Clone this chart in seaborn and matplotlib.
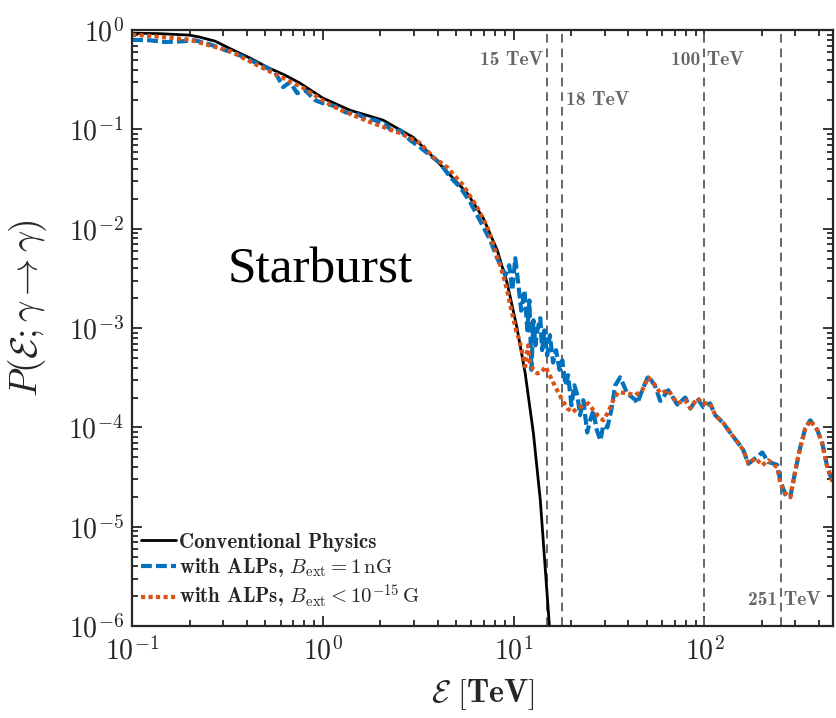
import numpy as np
import pandas as pd
import matplotlib
matplotlib.use("Agg")
import matplotlib.pyplot as plt
from matplotlib.ticker import FuncFormatter, LogLocator, NullFormatter
import seaborn as sns

# ---------------- data ----------------
conv_E = [0.1, 0.14, 0.2, 0.227, 0.272, 0.339, 0.416, 0.51, 0.634, 0.76, 1.0, 1.39,
          2.07, 2.97, 3.79, 4.65, 5.71, 6.93, 8.2, 9.25, 10.4, 11.5, 12.7, 13.8, 15.4, 15.8]
conv_P = [0.933, 0.922, 0.891, 0.85, 0.775, 0.629, 0.523, 0.424, 0.352, 0.292, 0.207, 0.156,
          0.124, 0.0836, 0.0526, 0.0347, 0.0228, 0.0128, 0.0061, 0.00283, 0.00102, 3.5e-4,
          8.7e-5, 1.85e-5, 1.0e-6, 5e-7]

blue_E = [0.1, 0.124, 0.149, 0.179, 0.214, 0.256, 0.307, 0.347, 0.416, 0.498,
          0.562, 0.619, 0.674, 0.733, 0.807, 0.911, 1.0, 1.16, 1.31, 1.48,
          1.67, 1.88, 2.12, 2.34, 2.54, 2.87, 3.24, 3.65, 4.12, 4.65,
          5.25, 5.92, 6.68, 7.54, 8.2, 8.82,
          9.04, 9.49, 9.84, 10.2, 10.6, 10.96, 11.4, 11.8, 12.1, 12.4,
          12.7, 13.0, 13.3, 13.8, 14.1, 14.5, 15.0, 15.5, 16.1, 16.7,
          17.4, 18.0, 18.7, 19.3, 20.1, 20.8, 21.6, 22.3, 23.2, 24.3,
          25.2, 26.2, 27.1, 28.5, 29.5, 31.0, 32.5, 34.1, 36.2,
          39.4, 43.4, 44.5, 47.2, 50.8, 55.2, 58.7, 64.7, 72.1, 79.4,
          84.4, 91.8, 98.7, 107, 114, 126, 140, 151, 160, 170,
          185, 201, 216, 241, 250, 266, 282, 300, 318, 338,
          359, 391, 415, 441, 473]
blue_P = [0.80, 0.79, 0.76, 0.77, 0.79, 0.72, 0.629, 0.586, 0.499, 0.424,
          0.378, 0.267, 0.30, 0.232, 0.249, 0.197, 0.184, 0.172, 0.149, 0.146,
          0.130, 0.124, 0.113, 0.094, 0.098, 0.078, 0.066, 0.055, 0.0458, 0.0331,
          0.0262, 0.0185, 0.0120, 0.00767, 0.00506, 0.00383,
          3.4e-3, 4.3e-3, 2.4e-3, 5.06e-3, 2.7e-3, 1.5e-3, 2.4e-3, 9.5e-4, 1.9e-3, 3.8e-4,
          1.2e-3, 6.7e-4, 9.5e-4, 1.26e-3, 6.0e-4, 9.5e-4, 5.3e-4, 8.5e-4, 4.5e-4, 6.0e-4,
          3.8e-4, 4.75e-4, 2.66e-4, 3.36e-4, 1.67e-4, 2.66e-4, 2.1e-4, 1.33e-4, 1.88e-4, 8.9e-5,
          1.18e-4, 1.49e-4, 9.8e-5, 7.4e-5, 1.05e-4, 1.0e-4, 1.49e-4, 2.66e-4, 3.2e-4,
          2.2e-4, 1.9e-4, 1.75e-4, 2.37e-4, 3.3e-4, 2.6e-4, 1.85e-4, 2.37e-4, 1.7e-4, 2.0e-4,
          1.55e-4, 1.97e-4, 1.6e-4, 1.75e-4, 1.33e-4, 1.1e-4, 8.3e-5, 6.9e-5, 5.9e-5, 4.3e-5,
          4.9e-5, 5.6e-5, 4.5e-5, 4.2e-5, 2.9e-5, 2.1e-5, 2.0e-5, 3.7e-5, 6.3e-5, 9.8e-5,
          1.18e-4, 9.4e-5, 6.9e-5, 3.97e-5, 2.74e-5]

orange_E = [0.1, 0.124, 0.158, 0.201, 0.256, 0.327, 0.382, 0.486, 0.619, 0.789,
            1.0, 1.23, 1.77, 2.54, 3.24, 3.79, 4.48, 5.44, 6.44, 7.27,
            8.2, 8.82, 9.25, 9.6, 9.95, 10.3, 10.7, 11.1, 11.5, 11.9,
            12.2, 12.7, 13.3, 14.0, 14.7, 15.4, 16.1, 16.9, 18.0, 19.1,
            20.3, 21.6, 22.9, 24.6, 26.2, 27.8, 29.5, 31.3, 33.3, 35.3,
            39.4, 43.4, 47.2, 50.8, 55.2, 58.7, 64.7, 72.1, 79.4, 84.4,
            91.8, 98.7, 107, 114, 126, 140, 151, 160, 170, 185,
            201, 216, 241, 250, 266, 282, 300, 318, 338, 359,
            391, 415, 441, 473]
orange_P = [0.90, 0.875, 0.84, 0.80, 0.70, 0.615, 0.525, 0.415, 0.33, 0.262,
            0.195, 0.158, 0.1185, 0.0918, 0.0728, 0.0526, 0.0417, 0.0275, 0.0165, 0.0105,
            5.3e-3, 3.4e-3, 2.4e-3, 1.7e-3, 1.26e-3, 9.5e-4, 7.6e-4, 5.7e-4, 4.1e-4, 6.7e-4,
            4.5e-4, 3.8e-4, 3.5e-4, 3.6e-4, 4.1e-4, 3.4e-4, 2.85e-4, 2.37e-4, 1.88e-4, 1.56e-4,
            1.42e-4, 1.56e-4, 1.64e-4, 1.75e-4, 1.49e-4, 1.30e-4, 1.18e-4, 1.42e-4, 1.88e-4, 2.26e-4,
            2.21e-4, 2.11e-4, 2.37e-4, 3.2e-4, 2.66e-4, 2.21e-4, 2.37e-4, 1.75e-4, 1.88e-4, 1.56e-4,
            1.97e-4, 1.75e-4, 1.75e-4, 1.33e-4, 1.10e-4, 8.3e-5, 6.9e-5, 5.9e-5, 4.36e-5, 4.9e-5,
            4.16e-5, 4.68e-5, 3.97e-5, 2.74e-5, 2.17e-5, 1.98e-5, 3.7e-5, 6.3e-5, 9.8e-5, 1.18e-4,
            9.4e-5, 6.9e-5, 3.97e-5, 2.74e-5]

series_labels = ["Conventional Physics",
                 r"with ALPs, $B_{\rm ext} = 1\,{\rm nG}$",
                 r"with ALPs, $B_{\rm ext} < 10^{-15}\,{\rm G}$"]
marker_E = [15, 18, 100, 251]
marker_labels = ["15 TeV", "18 TeV", "100 TeV", "251 TeV"]
title_text = "Starburst"

# ---------------- style ----------------
sns.set_style("ticks")
plt.rcParams["font.family"] = ["cmb10", "DejaVu Serif"]
plt.rcParams["mathtext.fontset"] = "cm"
plt.rcParams["axes.formatter.use_mathtext"] = True

AX_COL = "#262626"
fig = plt.figure(figsize=(8.36, 7.18), dpi=100)
ax = fig.add_axes([0.158, 0.128, 0.839, 0.830])

df_c = pd.DataFrame({"E": conv_E, "P": conv_P})
df_b = pd.DataFrame({"E": blue_E, "P": blue_P})
df_o = pd.DataFrame({"E": orange_E, "P": orange_P})

sns.lineplot(data=df_c, x="E", y="P", ax=ax, color="black", lw=2.0,
             estimator=None, label=series_labels[0])
sns.lineplot(data=df_b, x="E", y="P", ax=ax, color="#0072BD", lw=3.0,
             linestyle=(0, (2.6, 1.0)), estimator=None, label=series_labels[1])
sns.lineplot(data=df_o, x="E", y="P", ax=ax, color="#D95319", lw=3.0,
             linestyle=(0, (1.0, 0.8)), estimator=None, label=series_labels[2])
for ln in ax.lines[1:]:
    ln.set_dash_capstyle("butt")

ax.set_xscale("log")
ax.set_yscale("log")
ax.set_xlim(0.1, 475)
ax.set_ylim(1e-6, 1)


def pow_fmt(v, pos):
    e = int(round(np.log10(v)))
    return r"$\mathbf{10}^{\mathbf{%s}}$" % (str(e) if e >= 0 else r"-" + str(-e))


ax.xaxis.set_major_locator(LogLocator(base=10, numticks=20))
ax.yaxis.set_major_locator(LogLocator(base=10, numticks=20))
ax.xaxis.set_major_formatter(FuncFormatter(pow_fmt))
ax.yaxis.set_major_formatter(FuncFormatter(pow_fmt))
ax.xaxis.set_minor_formatter(NullFormatter())
ax.yaxis.set_minor_formatter(NullFormatter())

GRAY = "#666666"
for e in marker_E:
    ax.axvline(e, color=GRAY, lw=1.4, linestyle=(0, (4.5, 3.0)), zorder=1)

txt_kw = dict(color=GRAY, fontsize=14, textcoords="offset points",
              xycoords=("data", "axes fraction"), va="center")
ax.annotate(marker_labels[0], xy=(marker_E[0], 0.950), xytext=(-3, 0), ha="right", **txt_kw)
ax.annotate(marker_labels[1], xy=(marker_E[1], 0.883), xytext=(3, 0), ha="left", **txt_kw)
ax.annotate(marker_labels[2], xy=(marker_E[2], 0.950), xytext=(2, 0), ha="center", **txt_kw)
ax.annotate(marker_labels[3], xy=(marker_E[3], 0.044), xytext=(3, 0), ha="center", **txt_kw)

ax.text(0.268, 0.597, title_text, transform=ax.transAxes, ha="center", va="center",
        fontsize=37, family="Liberation Serif", color="black")

ax.set_xlabel(r"$\mathcal{E}\ \mathbf{[TeV]}$", fontsize=23, labelpad=8)
ax.set_ylabel(r"$P(\mathcal{E};\gamma\rightarrow\gamma)$", fontsize=27)
ax.yaxis.set_label_coords(-0.118, 0.534)

for s in ax.spines.values():
    s.set_visible(True)
    s.set_linewidth(1.6)
    s.set_color(AX_COL)
ax.tick_params(which="both", direction="in", top=True, right=True, color=AX_COL,
               labelsize=20, width=1.3)
ax.tick_params(which="major", length=7)
ax.tick_params(which="minor", length=4)
ax.tick_params(axis="x", pad=8)
ax.tick_params(axis="y", pad=6)

leg = ax.legend(loc="lower left", bbox_to_anchor=(0.012, 0.025), frameon=False,
                fontsize=15, handlelength=1.7, handletextpad=0.15,
                labelspacing=0.2, borderpad=0.0, borderaxespad=0.0)

fig.savefig("out.png", dpi=100)
